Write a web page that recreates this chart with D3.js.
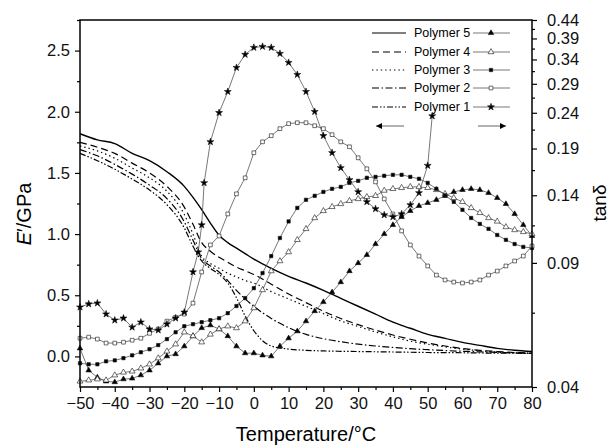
<!DOCTYPE html>
<html>
<head>
<meta charset="utf-8">
<title>DMA of polymers</title>
<style>
  body { margin: 0; background: #fff; }
  svg { font-family: "Liberation Sans", Arial, sans-serif; }
</style>
</head>
<body>
<svg width="611" height="446"></svg>
<script src="https://d3js.org/d3.v7.min.js"></script>
<script>
// storage modulus E' (left axis, GPa)
var tempsE = [-50, -45, -40, -35, -30, -25, -20, -17.5, -15, -12.5, -10, -7.5, -5, -2.5, 0,
  5, 10, 15, 20, 25, 30, 35, 40, 45, 50, 55, 60, 65, 70, 75, 80];
var eP5 = [1.82, 1.77, 1.74, 1.66, 1.60, 1.51, 1.39, 1.30, 1.20, 1.09, 0.99, 0.93, 0.885, 0.84, 0.795,
  0.72, 0.655, 0.60, 0.54, 0.475, 0.41, 0.345, 0.28, 0.23, 0.18, 0.148, 0.115, 0.09, 0.066, 0.05, 0.04];
var eP4 = [1.75, 1.71, 1.66, 1.58, 1.50, 1.39, 1.22, 1.08, 0.93, 0.86, 0.81, 0.77, 0.73, 0.70, 0.67,
  0.59, 0.51, 0.44, 0.37, 0.31, 0.26, 0.215, 0.175, 0.14, 0.11, 0.085, 0.065, 0.05, 0.04, 0.032, 0.027];
var eP3 = [1.72, 1.68, 1.62, 1.54, 1.46, 1.35, 1.16, 1.00, 0.82, 0.76, 0.72, 0.68, 0.65, 0.62, 0.60,
  0.53, 0.47, 0.41, 0.35, 0.29, 0.245, 0.20, 0.16, 0.125, 0.10, 0.078, 0.06, 0.046, 0.036, 0.029, 0.024];
var eP2 = [1.69, 1.64, 1.57, 1.49, 1.40, 1.29, 1.10, 0.95, 0.80, 0.74, 0.69, 0.62, 0.54, 0.47, 0.41,
  0.31, 0.235, 0.18, 0.145, 0.12, 0.10, 0.085, 0.073, 0.063, 0.055, 0.048, 0.042, 0.037, 0.033, 0.029, 0.026];
var eP1 = [1.66, 1.60, 1.53, 1.45, 1.36, 1.24, 1.05, 0.90, 0.78, 0.72, 0.67, 0.60, 0.48, 0.33, 0.21,
  0.085, 0.06, 0.05, 0.045, 0.042, 0.04, 0.038, 0.036, 0.034, 0.032, 0.031, 0.03, 0.028, 0.027, 0.026, 0.025];

// loss factor tan delta (right axis, log)
var tempsT = [-50, -47.5, -45, -42.5, -40, -37.5, -35, -32.5, -30, -27.5, -25, -22.5, -20, -17.5, -15,
  -12.5, -10, -7.5, -5, -2.5, 0, 2.5, 5, 7.5, 10, 12.5, 15, 17.5, 20, 22.5, 25, 27.5, 30, 32.5, 35,
  37.5, 40, 42.5, 45, 47.5, 50, 52.5, 55, 57.5, 60, 62.5, 65, 67.5, 70, 72.5, 75, 77.5, 80];
var tP5 = [0.0515, 0.0446, 0.0426, 0.0415, 0.0413, 0.0421, 0.0423, 0.0432, 0.0446, 0.0467,
  0.0489, 0.0496, 0.0522, 0.0558, 0.0588, 0.0599, 0.0584, 0.0558, 0.0522, 0.0499,
  0.0499, 0.0492, 0.0489, 0.0522, 0.0550, 0.0576, 0.0615, 0.0657, 0.0697, 0.0743,
  0.0794, 0.0853, 0.0899, 0.0948, 0.1018, 0.1087, 0.1153, 0.1215, 0.1264, 0.1306,
  0.1332, 0.1359, 0.1395, 0.1431, 0.1450, 0.1460, 0.1450, 0.1422, 0.1376, 0.1323,
  0.1239, 0.1153, 0.1073];
var tP4 = [0.0415, 0.0418, 0.0421, 0.0418, 0.0432, 0.0440, 0.0443, 0.0452, 0.0464, 0.0483,
  0.0505, 0.0529, 0.0572, 0.0558, 0.0536, 0.0564, 0.0584, 0.0595, 0.0588, 0.0615,
  0.0670, 0.0754, 0.0853, 0.0911, 0.0966, 0.1046, 0.1124, 0.1207, 0.1264, 0.1298,
  0.1323, 0.1350, 0.1367, 0.1385, 0.1395, 0.1444, 0.1460, 0.1470, 0.1479, 0.1479,
  0.1470, 0.1450, 0.1413, 0.1376, 0.1341, 0.1289, 0.1248, 0.1207, 0.1180, 0.1138,
  0.1116, 0.1102, 0.1087];
var tP3 = [0.0467, 0.0464, 0.0464, 0.0473, 0.0476, 0.0483, 0.0492, 0.0502, 0.0512, 0.0526,
  0.0547, 0.0572, 0.0595, 0.0603, 0.0611, 0.0619, 0.0627, 0.0648, 0.0679, 0.0715,
  0.0763, 0.0842, 0.0941, 0.1059, 0.1180, 0.1289, 0.1359, 0.1395, 0.1431, 0.1460,
  0.1479, 0.1518, 0.1538, 0.1569, 0.1579, 0.1590, 0.1600, 0.1600, 0.1579, 0.1559,
  0.1518, 0.1460, 0.1400, 0.1341, 0.1273, 0.1207, 0.1161, 0.1124, 0.1080, 0.1046,
  0.1018, 0.0999, 0.0992];
var tP2 = [0.0550, 0.0554, 0.0547, 0.0533, 0.0533, 0.0536, 0.0543, 0.0550, 0.0568, 0.0584,
  0.0615, 0.0631, 0.0644, 0.0692, 0.0848, 0.1012, 0.1073, 0.1239, 0.1413, 0.1569,
  0.1848, 0.1985, 0.2066, 0.2163, 0.2235, 0.2249, 0.2249, 0.2205, 0.2163, 0.2080,
  0.1985, 0.1922, 0.1788, 0.1664, 0.1528, 0.1367, 0.1239, 0.1109, 0.1012, 0.0941,
  0.0882, 0.0831, 0.0805, 0.0794, 0.0789, 0.0794, 0.0805, 0.0831, 0.0853, 0.0882,
  0.0911, 0.0941, 0.1005];
var tempsT1 = [-50, -47.5, -45, -42.5, -40, -37.5, -35, -32.5, -30, -27.5, -25, -22.5, -20, -17.5,
  -16, -15, -14.3, -12.5, -10, -7.5, -5, -2.5, 0, 2.5, 5, 7.5, 10, 12.5, 15, 17.5, 20, 22.5, 25,
  27.5, 30, 32.5, 35, 37.5, 40, 42.5, 45, 47.5, 50, 51.3];
var tP1 = [0.0674, 0.0688, 0.0692, 0.0644, 0.0619, 0.0627, 0.0591, 0.0611, 0.0584, 0.0580,
  0.0603, 0.0627, 0.0652, 0.0848, 0.0966, 0.1153, 0.1518, 0.1985, 0.2401, 0.2755,
  0.3224, 0.3512, 0.3676, 0.3700, 0.3676, 0.3534, 0.3332, 0.3080, 0.2755, 0.2418,
  0.2066, 0.1848, 0.1675, 0.1549, 0.1431, 0.1341, 0.1281, 0.1231, 0.1215, 0.1239,
  0.1315, 0.1422, 0.170, 0.235];

var xTicks = [-50, -40, -30, -20, -10, 0, 10, 20, 30, 40, 50, 60, 70, 80];
var yLTicks = [0.0, 0.5, 1.0, 1.5, 2.0, 2.5];
var yRTicks = [0.04, 0.09, 0.14, 0.19, 0.24, 0.29, 0.34, 0.39, 0.44];
var names = ["Polymer 5", "Polymer 4", "Polymer 3", "Polymer 2", "Polymer 1"];

var svg = d3.select("svg"),
  plotL = 80, plotR = 532, plotT = 20, plotB = 387;

var x = d3.scaleLinear().domain([-50, 80]).range([plotL, plotR]);
var yL = d3.scaleLinear().domain([-0.25, 2.75]).range([plotB, plotT]);
var yR = d3.scaleLog().domain([0.04, 0.44]).range([plotB, plotT]);

var dashes = ["none", "7,4", "1.4,3", "7,2.5,1.5,2.5", "6,2,1.5,2,1.5,2"];
var eSeries = [eP5, eP4, eP3, eP2, eP1];

var lineE = d3.line()
  .x(function (d) { return x(d[0]); })
  .y(function (d) { return yL(d[1]); })
  .curve(d3.curveMonotoneX);

eSeries.forEach(function (s, i) {
  svg.append("path")
    .datum(tempsE.map(function (t, j) { return [t, s[j]]; }))
    .attr("fill", "none")
    .attr("stroke", "#000")
    .attr("stroke-width", i == 0 ? 1.4 : 1.2)
    .attr("stroke-dasharray", dashes[i])
    .attr("d", lineE);
});

var tSeries = [
  { t: tempsT, v: tP5, sym: d3.symbolTriangle, fill: "#000", size: 13 },
  { t: tempsT, v: tP4, sym: d3.symbolTriangle, fill: "#fff", size: 15 },
  { t: tempsT, v: tP3, sym: d3.symbolSquare, fill: "#000", size: 11 },
  { t: tempsT, v: tP2, sym: d3.symbolSquare, fill: "#fff", size: 14 },
  { t: tempsT1, v: tP1, sym: d3.symbolStar, fill: "#000", size: 15 }
];

var lineT = d3.line()
  .x(function (d) { return x(d[0]); })
  .y(function (d) { return yR(d[1]); });

tSeries.forEach(function (s) {
  var pts = s.t.map(function (t, j) { return [t, s.v[j]]; });
  svg.append("path")
    .datum(pts)
    .attr("fill", "none")
    .attr("stroke", "#555")
    .attr("stroke-width", 0.8)
    .attr("d", lineT);
  svg.append("g").selectAll("path")
    .data(pts)
    .enter().append("path")
    .attr("transform", function (d) { return "translate(" + x(d[0]) + "," + yR(d[1]) + ")"; })
    .attr("d", d3.symbol().type(s.sym).size(s.size))
    .attr("fill", s.fill)
    .attr("stroke", "#111")
    .attr("stroke-width", 0.6);
});

// frame
svg.append("rect")
  .attr("x", plotL).attr("y", plotT)
  .attr("width", plotR - plotL).attr("height", plotB - plotT)
  .attr("fill", "none").attr("stroke", "#000").attr("stroke-width", 1.5);

// axes
svg.append("g").attr("transform", "translate(0," + plotB + ")")
  .call(d3.axisBottom(x).tickValues(xTicks).tickSize(5).tickPadding(5).tickFormat(d3.format("d")));
svg.append("g").attr("transform", "translate(0," + plotB + ")")
  .call(d3.axisBottom(x).tickValues(xTicks.slice(1).map(function (d) { return d - 5; })).tickSize(3).tickFormat(""));
svg.append("g").attr("transform", "translate(" + plotL + ",0)")
  .call(d3.axisLeft(yL).tickValues(yLTicks).tickSize(5).tickPadding(5).tickFormat(d3.format(".1f")));
svg.append("g").attr("transform", "translate(" + plotL + ",0)")
  .call(d3.axisLeft(yL).tickValues(yLTicks.map(function (d) { return d + 0.25; })).tickSize(3).tickFormat(""));
svg.append("g").attr("transform", "translate(" + plotR + ",0)")
  .call(d3.axisRight(yR).tickValues(yRTicks).tickSize(5).tickPadding(10).tickFormat(d3.format(".2f")));
svg.append("g").attr("transform", "translate(" + plotR + ",0)")
  .call(d3.axisRight(yR).tickValues(yRTicks.slice(1).map(function (d) { return d - 0.025; })).tickSize(3).tickFormat(""));

svg.selectAll(".domain").remove();
svg.selectAll(".tick line").attr("stroke", "#000").attr("stroke-width", 1.2);
svg.selectAll(".tick text")
  .attr("font-family", "Liberation Sans, Arial, sans-serif")
  .attr("font-size", 16.5)
  .attr("fill", "#111");

// axis titles
svg.append("text")
  .attr("x", 306).attr("y", 441)
  .attr("text-anchor", "middle")
  .attr("font-size", 20)
  .text("Temperature/\u00b0C");

var yt = svg.append("text")
  .attr("transform", "translate(31,214) rotate(-90)")
  .attr("text-anchor", "middle")
  .attr("font-size", 20);
yt.append("tspan").attr("font-style", "italic").text("E");
yt.append("tspan").text("\u2032/GPa");

svg.append("text")
  .attr("transform", "translate(606,203) rotate(-90)")
  .attr("text-anchor", "middle")
  .attr("font-size", 19)
  .text("tan\u03b4");

// legend
var legend = svg.append("g").selectAll("g")
  .data(names)
  .enter().append("g")
  .attr("transform", function (d, i) { return "translate(0," + [33, 52, 70, 88, 107][i] + ")"; });

legend.append("line")
  .attr("x1", 372).attr("x2", 406)
  .attr("stroke", "#000").attr("stroke-width", 1.2)
  .attr("stroke-dasharray", function (d, i) { return dashes[i]; });

legend.append("text")
  .attr("x", 414).attr("dy", "0.35em")
  .attr("font-size", 12.5)
  .text(function (d) { return d; });

legend.append("line")
  .attr("x1", 473).attr("x2", 510)
  .attr("stroke", "#555").attr("stroke-width", 0.8);

legend.append("path")
  .attr("transform", "translate(491,0)")
  .attr("d", function (d, i) { return d3.symbol().type(tSeries[i].sym).size(tSeries[i].size)(); })
  .attr("fill", function (d, i) { return tSeries[i].fill; })
  .attr("stroke", "#111").attr("stroke-width", 0.6);

// arrows: left = E', right = tan delta
svg.append("defs").append("marker")
  .attr("id", "head")
  .attr("viewBox", "0 0 10 10")
  .attr("refX", 10).attr("refY", 5)
  .attr("markerWidth", 10).attr("markerHeight", 6)
  .attr("markerUnits", "userSpaceOnUse")
  .attr("orient", "auto")
  .append("path").attr("d", "M0,0L10,5L0,10Z").attr("fill", "#000");

svg.append("line")
  .attr("x1", 404).attr("y1", 126).attr("x2", 376).attr("y2", 126)
  .attr("stroke", "#666").attr("stroke-width", 1)
  .attr("marker-end", "url(#head)");
svg.append("line")
  .attr("x1", 478).attr("y1", 126).attr("x2", 506).attr("y2", 126)
  .attr("stroke", "#666").attr("stroke-width", 1)
  .attr("marker-end", "url(#head)");
</script>
</body>
</html>
